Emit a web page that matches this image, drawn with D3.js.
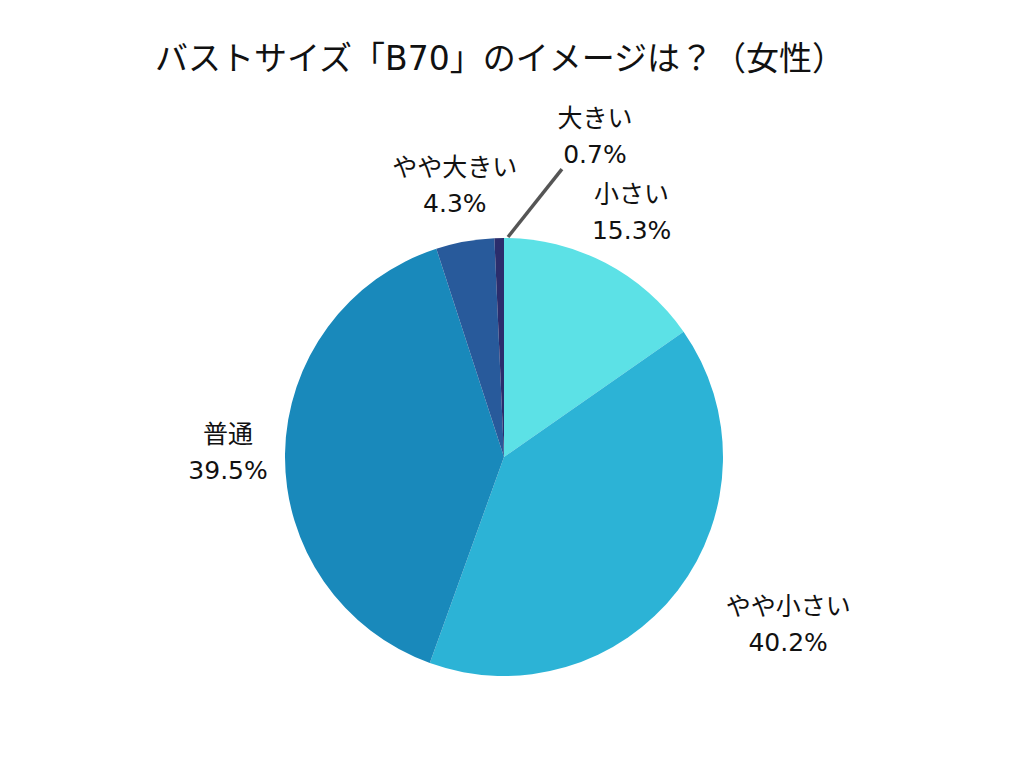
<!DOCTYPE html>
<html><head><meta charset="utf-8">
<script src="https://cdn.jsdelivr.net/npm/d3@7"></script>
<style>
html,body{margin:0;padding:0;background:#fff;}
text{font-family:"DejaVu Sans","Noto Sans CJK JP",sans-serif;fill:#111;}
</style></head>
<body><svg id="c" width="1024" height="768"></svg>
<script>
const title = "バストサイズ「B70」のイメージは？（女性）";
const categories = ["小さい","やや小さい","普通","やや大きい","大きい"];
const values = [15.3, 40.2, 39.5, 4.3, 0.7];
const valueLabels = ["15.3%","40.2%","39.5%","4.3%","0.7%"];
const colors = ["#5ce1e6","#2cb3d6","#1989bb","#285a9b","#2b2d6c"];

const svg = d3.select("#c");
const W = 1024, H = 768;
const cx = 504, cy = 457, R = 219, labelR = 276;

svg.append("rect").attr("width",W).attr("height",H).attr("fill","#fff");

svg.append("text").attr("x",500).attr("y",58)
  .attr("text-anchor","middle").attr("dominant-baseline","central")
  .style("font-size","33px").text(title);

const data = categories.map((c,i)=>({cat:c, value:values[i], label:valueLabels[i], color:colors[i]}));
const pie = d3.pie().sort(null).value(d=>d.value);
const arcs = pie(data);
const arc = d3.arc().innerRadius(0).outerRadius(R);
const labelArc = d3.arc().innerRadius(labelR).outerRadius(labelR);

const g = svg.append("g").attr("transform",`translate(${cx},${cy})`);
g.selectAll("path").data(arcs).join("path")
  .attr("d",arc).attr("fill",d=>d.data.color);

// label adjustments (library-like collision shifts)
const shift = {"やや小さい":[65,0], "大きい":[97,-45]};

arcs.forEach(a=>{
  let [x,y] = labelArc.centroid(a);
  const s = shift[a.data.cat] || [0,0];
  x += s[0]; y += s[1];
  if (a.data.cat === "大きい") {
    const ang = a.endAngle;
    const x0 = Math.sin(ang)*(R+1)+4, y0 = -Math.cos(ang)*(R+1);
    g.append("line").attr("x1",x0).attr("y1",y0).attr("x2",x-33).attr("y2",y+33)
      .attr("stroke","#555").attr("stroke-width",3.5);
  }
  const t = g.append("text").attr("text-anchor","middle").style("font-size","25px");
  t.append("tspan").attr("x",x).attr("y",y-18).attr("dominant-baseline","central").text(a.data.cat);
  t.append("tspan").attr("x",x).attr("y",y+18).attr("dominant-baseline","central").text(a.data.label);
});
</script></body></html>
